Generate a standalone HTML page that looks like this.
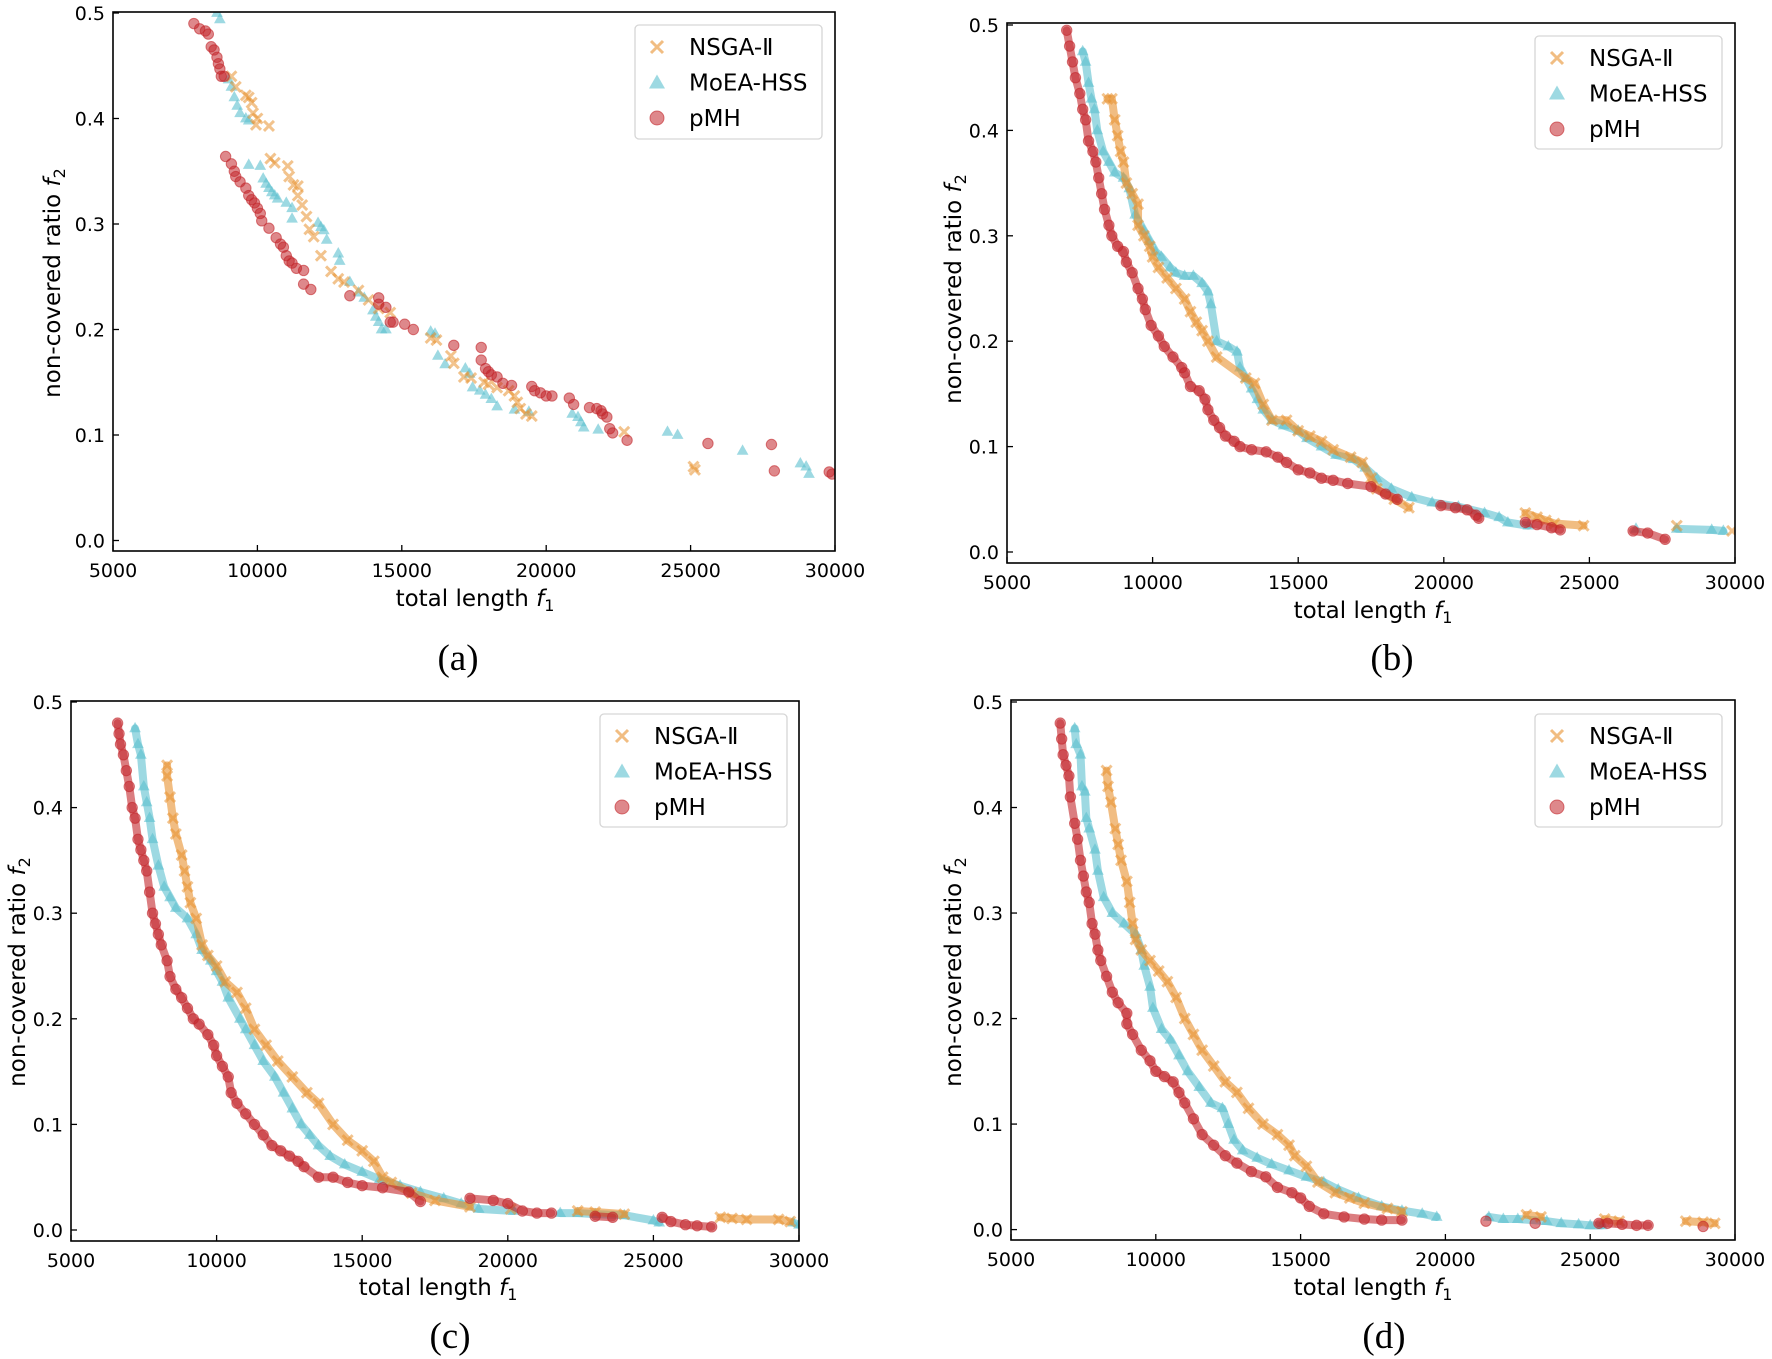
<!DOCTYPE html>
<html><head><meta charset="utf-8">
<style>
html,body{margin:0;padding:0;background:#fff;}
svg{display:block;}
text{font-family:"DejaVu Sans","Liberation Sans",sans-serif;}
</style></head>
<body>
<svg id="fig" width="1772" height="1359" viewBox="0 0 1772 1359" xmlns="http://www.w3.org/2000/svg"></svg>
<script>
const xTicks=[5000,10000,15000,20000,25000,30000];
const yTicks=[0.0,0.1,0.2,0.3,0.4,0.5];
const yTickLabels=["0.0","0.1","0.2","0.3","0.4","0.5"];
const seriesNames=["NSGA-Ⅱ","MoEA-HSS","pMH"];

const aPMH=[[7800,.49],[8000,.485],[8200,.483],[8300,.48],[8400,.468],[8500,.465],[8600,.458],[8650,.452],[8700,.447],[8750,.44],[8850,.44],[8900,.364],[9100,.357],[9200,.35],[9250,.345],[9400,.34],[9600,.334],[9700,.327],[9800,.323],[9900,.32],[10000,.315],[10100,.31],[10150,.303],[10400,.296],[10650,.287],[10800,.281],[10900,.278],[11000,.27],[11100,.265],[11200,.263],[11350,.258],[11600,.256],[11600,.243],[11850,.238],[13200,.232],[14200,.23],[14200,.224],[14450,.221],[14600,.207],[14700,.207],[15100,.205],[15400,.2],[16800,.185],[17750,.183],[17750,.171],[17900,.163],[18000,.16],[18100,.157],[18300,.155],[18500,.149],[18800,.147],[19500,.146],[19600,.142],[19800,.14],[20000,.137],[20200,.137],[20800,.135],[20950,.129],[21500,.126],[21750,.125],[21900,.123],[21950,.12],[22100,.117],[22200,.106],[22300,.102],[22800,.095],[25600,.092],[27800,.091],[27900,.066],[29800,.065],[29900,.063]];
const aMOEA=[[8600,.5],[8700,.494],[9000,.437],[9100,.43],[9200,.42],[9300,.412],[9400,.405],[9600,.4],[9700,.398],[9700,.356],[10100,.355],[10200,.343],[10300,.338],[10400,.334],[10500,.33],[10600,.327],[10700,.324],[11000,.32],[11200,.315],[11200,.305],[12100,.301],[12200,.297],[12300,.294],[12400,.285],[12800,.272],[12850,.265],[13200,.245],[13500,.235],[13700,.23],[14000,.218],[14100,.212],[14200,.207],[14300,.2],[14450,.2],[16000,.198],[16150,.196],[16250,.175],[16500,.167],[17200,.163],[17350,.158],[17450,.145],[17700,.142],[17900,.138],[18100,.134],[18300,.127],[18900,.124],[19400,.122],[20900,.12],[21100,.117],[21200,.112],[21300,.107],[21800,.105],[24200,.103],[24550,.1],[26800,.085],[28800,.073],[29000,.07],[29100,.063]];
const aNSGA=[[9100,.44],[9250,.43],[9600,.422],[9700,.42],[9800,.415],[9850,.405],[10000,.4],[9950,.394],[10400,.393],[10450,.362],[10600,.358],[11050,.355],[11100,.345],[11250,.337],[11400,.336],[11400,.327],[11550,.318],[11700,.307],[11800,.295],[11950,.288],[12200,.27],[12550,.255],[12800,.248],[13000,.245],[13500,.237],[13850,.228],[14200,.22],[14600,.216],[16000,.192],[16200,.19],[16700,.175],[16800,.168],[17150,.155],[17400,.154],[17850,.15],[18000,.148],[18300,.145],[18700,.142],[18900,.137],[19000,.131],[19100,.125],[19300,.12],[19500,.118],[22700,.103],[25100,.07],[25150,.067]];

const bPMH=[[7050,.495],[7150,.48],[7250,.465],[7350,.45],[7500,.435],[7600,.42],[7700,.41],[7800,.39],[7950,.38],[8050,.37],[8150,.355],[8250,.34],[8350,.325],[8500,.31],[8600,.3],[8800,.29],[9000,.285],[9100,.275],[9300,.265],[9500,.25],[9650,.24],[9750,.23],[9950,.215],[10200,.205],[10400,.195],[10700,.185],[11000,.175],[11100,.17],[11300,.157],[11600,.153],[11800,.145],[11900,.135],[12100,.125],[12300,.118],[12500,.11],[12800,.105],[13000,.1],[13400,.097],[13900,.095],[14300,.09],[14600,.085],[15000,.078],[15400,.075],[15800,.07],[16200,.068],[16700,.065],[17500,.062],[18000,.055],[18400,.05],[19900,.044],[20400,.042],[20800,.04],[21100,.035],[21200,.032],[22800,.028],[23200,.026],[23700,.023],[24000,.021],[26500,.02],[27000,.018],[27600,.012]];
const bMOEA=[[7600,.475],[7700,.465],[7800,.445],[7900,.43],[8000,.42],[8100,.4],[8300,.38],[8500,.37],[8700,.36],[9000,.355],[9200,.345],[9400,.32],[9700,.305],[9900,.295],[10100,.285],[10300,.28],[10600,.27],[10800,.265],[11100,.262],[11400,.262],[11700,.255],[11900,.247],[12000,.235],[12200,.2],[12600,.195],[12900,.19],[13000,.175],[13200,.165],[13400,.155],[13600,.145],[13800,.135],[14100,.125],[14500,.12],[15000,.115],[15300,.108],[15800,.1],[16300,.092],[16900,.088],[17300,.08],[17700,.07],[18200,.06],[18900,.052],[19600,.047],[20500,.043],[21400,.037],[21900,.033],[22200,.028],[22900,.025],[26600,.022],[28000,.022],[29200,.021],[29600,.02]];
const bNSGA=[[8450,.43],[8600,.43],[8700,.41],[8800,.395],[8900,.38],[9000,.37],[9100,.35],[9300,.34],[9500,.33],[9500,.31],[9700,.3],[9900,.29],[10000,.28],[10200,.27],[10500,.26],[10800,.25],[11100,.24],[11300,.228],[11500,.218],[11700,.21],[11900,.2],[12200,.185],[13200,.165],[13500,.16],[13800,.14],[14100,.125],[14600,.125],[15000,.115],[15400,.11],[15800,.105],[16200,.097],[16800,.09],[17200,.085],[17500,.07],[17700,.06],[18300,.05],[18800,.042],[22800,.037],[23200,.033],[23500,.03],[23800,.027],[24800,.025],[28000,.025],[29900,.02]];

const cPMH=[[6600,.48],[6650,.47],[6700,.46],[6800,.45],[6900,.435],[7000,.42],[7100,.4],[7200,.39],[7300,.37],[7400,.36],[7500,.35],[7600,.34],[7700,.32],[7800,.3],[7900,.29],[8000,.28],[8100,.27],[8300,.255],[8400,.24],[8600,.228],[8800,.22],[9000,.21],[9200,.2],[9400,.195],[9700,.185],[9900,.175],[10000,.165],[10200,.155],[10400,.145],[10500,.13],[10700,.12],[11000,.11],[11300,.1],[11600,.09],[11900,.08],[12200,.075],[12500,.07],[12800,.065],[13000,.06],[13500,.05],[14000,.05],[14500,.045],[15000,.042],[15700,.04],[16600,.036],[17000,.027],[18700,.03],[19500,.028],[20000,.025],[20500,.018],[21000,.016],[21500,.016],[23000,.013],[23600,.012],[25300,.012],[25600,.008],[26100,.005],[26500,.004],[27000,.003]];
const cMOEA=[[7200,.475],[7300,.46],[7400,.45],[7500,.42],[7600,.405],[7700,.39],[7800,.37],[8000,.345],[8200,.325],[8400,.315],[8600,.305],[9000,.295],[9300,.28],[9500,.265],[9800,.255],[10000,.245],[10200,.235],[10400,.22],[10800,.2],[11000,.19],[11300,.175],[11600,.16],[12000,.145],[12300,.13],[12600,.115],[12900,.1],[13200,.09],[13500,.08],[13900,.07],[14400,.062],[15000,.055],[15600,.048],[16300,.042],[17000,.036],[17800,.03],[18400,.025],[19000,.02],[20200,.018],[21800,.016],[22400,.016],[23000,.015],[24000,.014],[25000,.009],[25200,.007],[29800,.007],[30000,.005]];
const cNSGA=[[8300,.44],[8300,.43],[8400,.41],[8500,.39],[8600,.375],[8800,.355],[8900,.34],[9000,.325],[9100,.31],[9300,.295],[9500,.27],[9700,.26],[10000,.25],[10300,.235],[10700,.225],[11000,.21],[11300,.19],[11700,.175],[12100,.16],[12600,.145],[13100,.13],[13500,.12],[14000,.1],[14500,.085],[15000,.075],[15400,.065],[15700,.05],[16000,.045],[16700,.035],[17500,.028],[18700,.022],[20100,.02],[22400,.018],[23000,.017],[24000,.015],[27300,.012],[27700,.011],[28200,.01],[29300,.01],[29700,.008]];

const dPMH=[[6700,.48],[6750,.465],[6800,.45],[6900,.44],[7000,.43],[7050,.41],[7200,.385],[7300,.37],[7400,.35],[7500,.335],[7600,.32],[7700,.31],[7800,.29],[7900,.28],[8000,.265],[8100,.255],[8300,.24],[8500,.225],[8700,.215],[9000,.205],[9000,.195],[9200,.185],[9500,.17],[9800,.16],[10000,.15],[10300,.145],[10600,.14],[10800,.13],[11000,.12],[11300,.105],[11600,.09],[12000,.08],[12400,.07],[12800,.063],[13300,.055],[13800,.05],[14200,.04],[14700,.035],[15000,.03],[15300,.022],[15800,.015],[16500,.012],[17200,.01],[17800,.009],[18500,.009],[21400,.008],[23100,.006],[25300,.006],[25600,.006],[26100,.005],[26600,.004],[27000,.004],[28900,.003]];
const dMOEA=[[7200,.475],[7250,.46],[7400,.45],[7450,.42],[7550,.415],[7600,.39],[7700,.38],[7900,.36],[8000,.34],[8200,.315],[8500,.3],[8900,.29],[9300,.28],[9500,.265],[9600,.25],[9800,.23],[9900,.21],[10200,.19],[10500,.18],[10800,.165],[11100,.15],[11500,.135],[11900,.12],[12300,.115],[12500,.1],[12700,.085],[13000,.075],[13500,.068],[14000,.062],[14600,.056],[15200,.05],[15800,.045],[16300,.038],[17000,.03],[17800,.022],[18500,.018],[19200,.015],[19700,.012],[21500,.012],[22000,.01],[22500,.01],[23500,.008],[24000,.006],[24600,.005],[25000,.004],[25400,.004]];
const dNSGA=[[8300,.435],[8350,.42],[8450,.405],[8600,.38],[8700,.365],[8800,.35],[9000,.33],[9100,.31],[9200,.29],[9300,.275],[9500,.265],[9800,.255],[10100,.245],[10400,.235],[10700,.22],[11000,.2],[11300,.185],[11600,.17],[12000,.155],[12400,.14],[12800,.13],[13200,.115],[13700,.1],[14200,.09],[14600,.08],[14800,.07],[15200,.06],[15600,.045],[16200,.035],[16700,.03],[17200,.025],[18000,.02],[18500,.017],[22800,.014],[23300,.012],[25500,.01],[26000,.008],[28300,.008],[28900,.007],[29300,.006]];

const NS="http://www.w3.org/2000/svg";
const svg=document.getElementById('fig');
const COL={n:"#e8912f",m:"#5cbfcf",p:"#c3262c"};
function mk(tag,attrs,parent){const e=document.createElementNS(NS,tag);for(const k in attrs)e.setAttribute(k,attrs[k]);(parent||svg).appendChild(e);return e;}

const panels=[
 {id:"a",L:113,R:835,T:12,B:551,y0:540.5,y5:13,data:[aNSGA,aMOEA,aPMH],band:false,leg:[635,25,187,114],xl:[475,606],yl:[52,283],cap:[458,670]},
 {id:"b",L:1007,R:1735,T:23,B:563,y0:552,y5:25,data:[bNSGA,bMOEA,bPMH],band:true,leg:[1535,36,187,113],xl:[1373,618],yl:[953,289],cap:[1392,670]},
 {id:"c",L:71,R:799,T:701,B:1241,y0:1230,y5:702,data:[cNSGA,cMOEA,cPMH],band:true,leg:[600,714,187,113],xl:[438,1295],yl:[17,972],cap:[450,1348]},
 {id:"d",L:1011,R:1735,T:700,B:1240,y0:1229.6,y5:702,data:[dNSGA,dMOEA,dPMH],band:true,leg:[1535,714,187,113],xl:[1373,1295],yl:[953,972],cap:[1384,1348]}
];

function marker(kind,x,y,g){
  let e;
  if(kind===0){
    const s=5;
    e=mk('path',{d:`M${x-s},${y-s}L${x+s},${y+s}M${x-s},${y+s}L${x+s},${y-s}`,stroke:COL.n,'stroke-width':3,'stroke-opacity':0.55,fill:'none'},g);
  }else if(kind===1){
    const s=6.5;
    e=mk('path',{d:`M${x},${y-s}L${x+s*0.9},${y+s*0.6}L${x-s*0.9},${y+s*0.6}Z`,fill:COL.m,'fill-opacity':0.6},g);
  }else{
    e=mk('circle',{cx:x,cy:y,r:5.2,fill:COL.p,'fill-opacity':0.55,stroke:COL.p,'stroke-opacity':0.6,'stroke-width':1},g);
  }
  return e;
}

panels.forEach(P=>{
  const g=mk('g',{});
  
  
  const sx=v=>P.L+(v-5000)/25000*(P.R-P.L);
  const sy=v=>P.y0-(v/0.5)*(P.y0-P.y5);
  const clipId='clip'+P.id;
  const cp=mk('clipPath',{id:clipId},g);mk('rect',{x:P.L,y:P.T,width:P.R-P.L,height:P.B-P.T},cp);
  const plot=mk('g',{'clip-path':`url(#${clipId})`},g);
  
  
  const names=['nsga','moea','pmh'];
  [1,0,2].forEach(k=>{
    const arr=P.data[k];
    const sg=mk('g',{},plot);
    
    
    if(P.band){
      let d='';
      for(let i=0;i<arr.length;i++){
        const [x,y]=arr[i];
        if(i>0){const [px,py]=arr[i-1];
          if(Math.abs(x-px)<1300&&Math.abs(y-py)<0.04){d+=`L${sx(x)},${sy(y)}`;continue;}}
        d+=`M${sx(x)},${sy(y)}`;
      }
      const col=[COL.n,COL.m,COL.p][k];
      const bl=mk('path',{d:d,stroke:col,'stroke-width':8,'stroke-opacity':0.6,fill:'none','stroke-linecap':'round','stroke-linejoin':'round'},sg);
      
      
    }
    arr.forEach(([x,y])=>{
      const m=marker(k,sx(x),sy(y),sg);
      
      
    });
  });
  const frame=mk('rect',{x:P.L,y:P.T,width:P.R-P.L,height:P.B-P.T,fill:'none',stroke:'#000','stroke-width':1.6},g);
  
  
  xTicks.forEach(v=>{
    const x=sx(v);
    const t=mk('line',{x1:x,x2:x,y1:P.B,y2:P.B-6,stroke:'#000','stroke-width':1.3},g);
    
    
    const lb=mk('text',{x:x,y:P.B+26,'text-anchor':'middle','font-size':19},g);
    lb.textContent=String(v);
    
    
  });
  yTicks.forEach((v,i)=>{
    const y=sy(v);
    const t=mk('line',{x1:P.L,x2:P.L+6,y1:y,y2:y,stroke:'#000','stroke-width':1.3},g);
    
    
    const lb=mk('text',{x:P.L-8,y:y+7,'text-anchor':'end','font-size':19},g);
    lb.textContent=yTickLabels[i];
    
    
  });
  const xl=mk('text',{x:P.xl[0],y:P.xl[1],'text-anchor':'middle','font-size':23},g);
  xl.innerHTML='total length <tspan font-style="italic">f</tspan><tspan font-size="16" dy="5">1</tspan>';
  
  
  const yl=mk('text',{x:0,y:0,'text-anchor':'middle','font-size':23,transform:`translate(${P.yl[0]+8},${P.yl[1]}) rotate(-90)`},g);
  yl.innerHTML='non-covered ratio <tspan font-style="italic">f</tspan><tspan font-size="16" dy="5">2</tspan>';
  
  
  const cap=mk('text',{x:P.cap[0],y:P.cap[1],'text-anchor':'middle','font-size':37,style:'font-family:"Liberation Serif",serif'},g);
  cap.textContent='('+P.id+')';
  
  
  const lg=mk('g',{},g);
  
  
  const [lx,ly,lw,lh]=P.leg;
  mk('rect',{x:lx,y:ly,width:lw,height:lh,rx:4,fill:'#fff','fill-opacity':0.85,stroke:'#d6d6d6','stroke-width':1.3},lg);
  seriesNames.forEach((nm,k)=>{
    const cy=ly+22+k*35.5;
    const e=mk('g',{},lg);
    
    
    if(k===0){mk('path',{d:`M${lx+16},${cy-6}L${lx+28},${cy+6}M${lx+16},${cy+6}L${lx+28},${cy-6}`,stroke:COL.n,'stroke-width':3,'stroke-opacity':0.6},e);}
    else if(k===1){mk('path',{d:`M${lx+22},${cy-8}L${lx+30},${cy+6}L${lx+14},${cy+6}Z`,fill:COL.m,'fill-opacity':0.6},e);}
    else{mk('circle',{cx:lx+22,cy:cy,r:7,fill:COL.p,'fill-opacity':0.55,stroke:COL.p,'stroke-opacity':0.6},e);}
    const t=mk('text',{x:lx+54,y:cy+8,'font-size':23},e);
    t.textContent=nm;
  });
});
</script>
</body></html>
